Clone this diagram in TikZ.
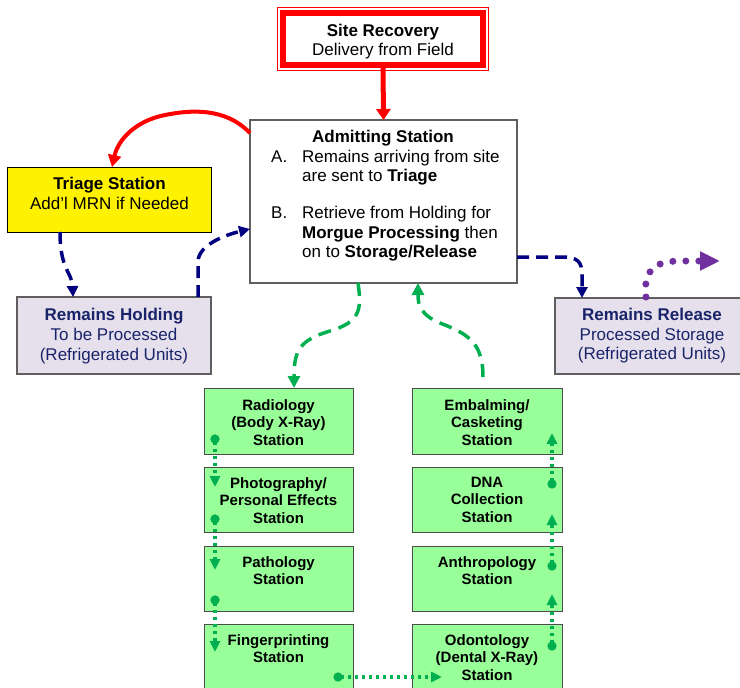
\documentclass[tikz,border=0pt]{standalone}
\usepackage{fontspec}
\setmainfont{Liberation Sans}
\usetikzlibrary{arrows.meta,calc}
\definecolor{navyline}{RGB}{0,0,128}
\definecolor{navytext}{RGB}{25,35,105}
\definecolor{lav}{RGB}{230,224,236}
\definecolor{lgreen}{RGB}{153,255,153}
\definecolor{dgreen}{RGB}{0,176,80}
\definecolor{purp}{RGB}{112,48,160}
\definecolor{boxgray}{RGB}{95,95,95}
\begin{document}
\begin{tikzpicture}[x=1pt,y=-1pt,
  box/.style={draw, rectangle, inner sep=0pt, outer sep=0pt},
  gbox/.style={box, draw=black!70, line width=0.9pt, fill=lgreen, minimum width=149pt},
  gtext/.style={anchor=base, inner sep=0pt, font=\fontsize{15}{17.8}\selectfont\bfseries},
  ttext/.style={anchor=base, inner sep=0pt, font=\fontsize{17}{19.5}\selectfont},
  navyarrow/.style={draw=navyline, line width=3.5pt, dash pattern=on 12pt off 7pt, -{Triangle[length=11pt,width=11pt]}},
  gdash/.style={draw=dgreen, line width=3.5pt, dash pattern=on 13pt off 8pt, -{Triangle[length=12pt,width=12pt]}},
  gdot/.style={draw=dgreen, line width=3.5pt, dash pattern=on 3.5pt off 3.5pt, {Circle[length=9pt]}-{Triangle[length=11pt,width=10pt]}},
  redarrow/.style={draw=red, line width=5pt, -{Triangle[length=11pt,width=14pt]}},
  redcurve/.style={draw=red, line width=4pt, -{Triangle[length=12pt,width=13pt]}},
  purpdots/.style={draw=purp, line width=7pt, line cap=round, dash pattern=on 0pt off 13pt, -{Triangle[length=20pt,width=18pt]}},
]
\useasboundingbox (0,0) rectangle (740,688);
\clip (0,0) rectangle (740,688);
\fill[white] (0,0) rectangle (740,688);

% ---------- boxes ----------
\node[box, draw=red, line width=6pt, fill=white, minimum width=200pt, minimum height=52pt] (site) at (383,39) {};
\draw[red, line width=1pt] ([shift={(-5.5pt,5.5pt)}]site.north west) rectangle ([shift={(5.5pt,-5.5pt)}]site.south east);
\node[ttext] (sitet1) at ($(site.north)+(0,23)$) {\bfseries Site Recovery};
\node[ttext] (sitet2) at ($(site.north)+(0,42)$) {Delivery from Field};

\node[box, draw=boxgray, line width=1.5pt, fill=white, minimum width=267pt, minimum height=163pt] (adm) at (383.5,201.5) {};
\node[ttext] (admt) at (383,142) {\bfseries Admitting Station};
\node[ttext, anchor=base west] (admlist) at (271,162) {\begin{tabular}[t]{@{}p{31pt}@{}l@{}}
A. & Remains arriving from site\\
   & are sent to \textbf{Triage}\\[17.5pt]
B. & Retrieve from Holding for\\
   & \textbf{Morgue Processing} then\\
   & on to \textbf{Storage/Release}
\end{tabular}};

\node[box, draw=black, line width=1pt, fill=yellow, minimum width=204pt, minimum height=65pt] (triage) at (109,199.5) {};
\node[ttext] (triaget1) at (109.5,189) {\bfseries Triage Station};
\node[ttext] (triaget2) at (109.5,209) {Add’l MRN if Needed};

\node[box, draw=boxgray, line width=1.2pt, fill=lav, minimum width=194pt, minimum height=77pt] (hold) at (114,335.5) {};
\node[ttext, text=navytext] (holdt1) at (114,320) {\bfseries Remains Holding};
\node[ttext, text=navytext] (holdt2) at (114,340) {To be Processed};
\node[ttext, text=navytext] (holdt3) at (114,360) {(Refrigerated Units)};

\node[box, draw=boxgray, line width=1.2pt, fill=lav, minimum width=194pt, minimum height=76pt] (rel) at (652,336) {};
\node[ttext, text=navytext] (relt1) at (652,320) {\bfseries Remains Release};
\node[ttext, text=navytext] (relt2) at (652,340) {Processed Storage};
\node[ttext, text=navytext] (relt3) at (652,359) {(Refrigerated Units)};

% green stations, left column
\node[gbox, minimum height=66pt] (rad) at (278.5,421) {};
\node[gtext] (radt) at ($(rad.north)+(0,22)$) {\begin{tabular}[t]{@{}c@{}}Radiology\\(Body X-Ray)\\Station\end{tabular}};
\node[gbox, minimum height=65pt] (photo) at (278.5,499.5) {};
\node[gtext] (photot) at ($(photo.north)+(0,21)$) {\begin{tabular}[t]{@{}c@{}}Photography/\\Personal Effects\\Station\end{tabular}};
\node[gbox, minimum height=65pt] (patho) at (278.5,578.5) {};
\node[gtext] (pathot) at ($(patho.north)+(0,21)$) {\begin{tabular}[t]{@{}c@{}}Pathology\\Station\end{tabular}};
\node[gbox, minimum height=66pt] (finger) at (278.5,657) {};
\node[gtext] (fingert) at ($(finger.north)+(0,21)$) {\begin{tabular}[t]{@{}c@{}}Fingerprinting\\Station\end{tabular}};

% green stations, right column
\node[gbox, minimum width=150pt, minimum height=66pt] (emb) at (487,421) {};
\node[gtext] (embt) at ($(emb.north)+(0,22)$) {\begin{tabular}[t]{@{}c@{}}Embalming/\\Casketing\\Station\end{tabular}};
\node[gbox, minimum width=150pt, minimum height=65pt] (dna) at (487,499.5) {};
\node[gtext] (dnat) at ($(dna.north)+(0,20)$) {\begin{tabular}[t]{@{}c@{}}DNA\\Collection\\Station\end{tabular}};
\node[gbox, minimum width=150pt, minimum height=65pt] (anth) at (487,578.5) {};
\node[gtext] (antht) at ($(anth.north)+(0,21)$) {\begin{tabular}[t]{@{}c@{}}Anthropology\\Station\end{tabular}};
\node[gbox, minimum width=150pt, minimum height=66pt] (odo) at (487,657) {};
\node[gtext] (odot) at ($(odo.north)+(0,21)$) {\begin{tabular}[t]{@{}c@{}}Odontology\\(Dental X-Ray)\\Station\end{tabular}};

% ---------- connectors ----------
\draw[redarrow] (site.south) -- (adm.north);
\draw[redcurve] ($(adm.north west)+(0,13)$) .. controls (225,107) and (190,110) .. (165,115)
  .. controls (135,121) and (118,140) .. ($(triage.north west)+(105,0)$);

\draw[navyarrow] ($(triage.south west)+(53,0)$) .. controls (60,270) and (72,272) .. ($(hold.north west)+(56,0)$);
\draw[navyarrow] ($(hold.north west)+(181,0)$) -- (198,262) .. controls (198,245) and (225,235) .. ($(adm.north west)+(0,109)$);
\draw[navyarrow] ($(adm.north east)+(0,137)$) -- (562,257) .. controls (578,257) and (582,262) .. (582,275) -- ($(rel.north west)+(27,0)$);

\draw[gdash] ($(adm.south west)+(108,0)$) .. controls (362,310) and (360,322) .. (330,331)
  .. controls (300,340) and (294,350) .. ($(rad.north)+(15.5,0)$);
\draw[gdash] ($(emb.north)+(-4,-11)$) .. controls (483,345) and (470,335) .. (445,325)
  .. controls (420,316) and (418,305) .. ($(adm.south west)+(168,0)$);

\draw[gdot] ($(rad.south west)+(11,-19.5)$) -- ($(photo.north west)+(11,20)$);
\draw[gdot] ($(photo.south west)+(11,-17.5)$) -- ($(patho.north west)+(11,24)$);
\draw[gdot] ($(patho.south west)+(11,-15.5)$) -- ($(finger.north west)+(11,28)$);
\draw[gdot] ($(finger.north east)+(-19.5,53)$) -- ($(odo.north west)+(30,53)$);
\draw[gdot] ($(odo.north east)+(-10,26.5)$) -- ($(anth.south east)+(-10,-17)$);
\draw[gdot] ($(anth.north east)+(-10,24.5)$) -- ($(dna.south east)+(-10,-18)$);
\draw[gdot] ($(dna.north east)+(-10,21.5)$) -- ($(emb.south east)+(-10,-21)$);

\coordinate (relout) at (720,261);
\draw[purpdots] ($(rel.north)+(-6,-1)$) .. controls (643,270) and (655,261) .. (680,261) -- (relout);
\end{tikzpicture}
\end{document}
